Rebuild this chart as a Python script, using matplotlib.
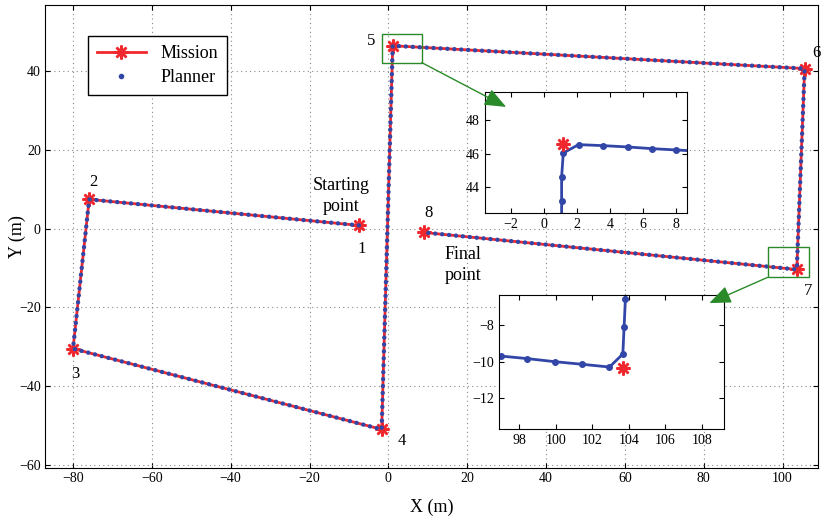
import matplotlib.pyplot as plt
from matplotlib.lines import Line2D
from matplotlib.patches import Rectangle, ConnectionPatch

plt.rcParams['font.family'] = ['Liberation Serif', 'DejaVu Serif']

# mission waypoints 1..8
wp_x = [-7.5, -75.9, -80.0, -1.7, 1.1, 105.6, 103.6, 9.0]
wp_y = [0.8, 7.4, -30.5, -51.0, 46.4, 40.6, -10.4, -1.0]
wp_names = ['1', '2', '3', '4', '5', '6', '7', '8']
name_x = [-6.8, -74.8, -79.5, 3.5, -4.5, 108.5, 106.5, 10.3]
name_y = [-5.3, 11.8, -37.0, -54.0, 47.5, 44.5, -15.8, 4.0]

# zoom 1 (around waypoint 5)
z1_px = [1.07, 1.07, 1.07, 1.17, 2.1, 3.6, 5.09, 6.56, 8.04, 9.5]
z1_py = [41.5, 43.15, 44.59, 46.04, 46.54, 46.48, 46.4, 46.3, 46.22, 46.14]
z1_mx = [1.17]
z1_my = [46.6]

# zoom 2 (around waypoint 7)
z2_px = [95.5, 97.0, 98.45, 99.97, 101.46, 102.94, 103.67, 103.74, 103.81, 103.88]
z2_py = [-9.55, -9.69, -9.83, -10.0, -10.14, -10.29, -9.58, -8.09, -6.58, -5.1]
z2_mx = [103.67]
z2_my = [-10.36]

red = '#f0282d'
blue = '#3246a8'
green = '#2a8a2a'

fig = plt.figure(figsize=(8.23, 5.18), dpi=100)
ax = fig.add_axes([0.0547, 0.0965, 0.9393, 0.8935])

ax.plot(wp_x, wp_y, color=red, lw=2, marker=(8, 2, 0), ms=10, mew=1.8, zorder=2)
ax.plot(wp_x, wp_y, color=blue, lw=3.2, linestyle=(0, (0.01, 1.55)),
        dash_capstyle='round', zorder=3)

for n, tx, ty in zip(wp_names, name_x, name_y):
    ax.text(tx, ty, n, fontsize=12, ha='center', va='center')
ax.text(-12.0, 8.3, 'Starting\npoint', fontsize=13, ha='center', va='center', linespacing=1.3)
ax.text(19.0, -9.2, 'Final\npoint', fontsize=13, ha='center', va='center', linespacing=1.3)

ax.set_xlim(-87.1, 109.0)
ax.set_ylim(-60.8, 56.7)
ax.set_xticks(range(-80, 101, 20))
ax.set_yticks(range(-60, 41, 20))
ax.grid(True, linestyle=(0, (1, 3)), color='#888888', lw=0.8)
ax.tick_params(direction='in', top=True, right=True, labelsize=10, pad=3)
ax.set_xlabel('X (m)', fontsize=13, labelpad=10)
ax.set_ylabel('Y (m)', fontsize=13, labelpad=-5)

handles = [Line2D([], [], color=red, lw=2, marker=(8, 2, 0), ms=10, mew=1.8),
           Line2D([], [], color=blue, ls='none', marker='.', ms=6)]
leg = ax.legend(handles, ['Mission', 'Planner'], loc='upper left',
                bbox_to_anchor=(0.0556, 0.933), borderaxespad=0, fontsize=13,
                fancybox=False, edgecolor='black', framealpha=1, handlelength=2.7,
                borderpad=0.5, labelspacing=0.4)
leg.get_frame().set_linewidth(1)

# green boxes on main plot
ax.add_patch(Rectangle((-1.6, 42.1), 10.1, 7.4, fill=False, ec=green, lw=1, zorder=5))
ax.add_patch(Rectangle((96.2, -12.4), 10.4, 7.6, fill=False, ec=green, lw=1, zorder=5))

# inset 1
ax1 = fig.add_axes([0.589, 0.589, 0.2454, 0.2336])
ax1.plot(z1_px, z1_py, color=blue, lw=2, marker='o', ms=4)
ax1.plot(z1_mx, z1_my, color=red, ls='none', marker=(8, 2, 0), ms=10, mew=1.8)
ax1.set_xlim(-3.6, 8.67)
ax1.set_ylim(42.45, 49.7)
ax1.set_xticks(range(-2, 9, 2))
ax1.set_yticks([44, 46, 48])
ax1.tick_params(direction='in', top=True, right=True, labelsize=10)

# inset 2
ax2 = fig.add_axes([0.6063, 0.1718, 0.2734, 0.2587])
ax2.plot(z2_px, z2_py, color=blue, lw=2, marker='o', ms=4)
ax2.plot(z2_mx, z2_my, color=red, ls='none', marker=(8, 2, 0), ms=10, mew=1.8)
ax2.set_xlim(96.9, 109.2)
ax2.set_ylim(-13.67, -6.36)
ax2.set_xticks(range(98, 109, 2))
ax2.set_yticks([-8, -10, -12])
ax2.tick_params(direction='in', top=True, right=True, labelsize=10)

# arrows from boxes to insets
for xa, ta, xb, tb in [((8.5, 42.1), ax.transData, (-2.3, 48.8), ax1.transData),
                       ((96.2, -12.4), ax.transData, (108.4, -6.8), ax2.transData)]:
    arr = ConnectionPatch(xyA=xa, coordsA=ta, xyB=xb, coordsB=tb,
                          arrowstyle='-|>,head_length=1.1,head_width=0.45',
                          color=green, lw=1, mutation_scale=12, shrinkB=0)
    arr.set_zorder(10)
    fig.add_artist(arr)

fig.savefig('out.png', dpi=100)
